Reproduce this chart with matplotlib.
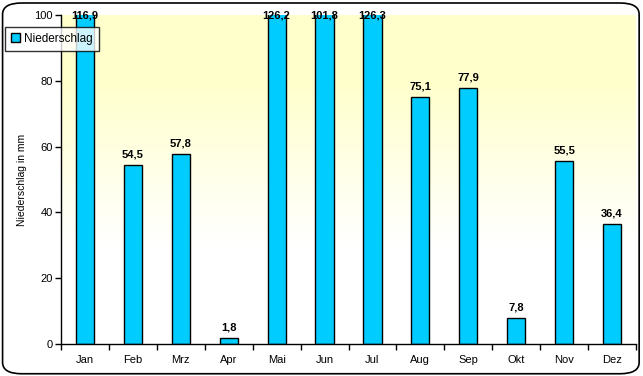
import numpy as np
import matplotlib.pyplot as plt
import matplotlib.patches as patches

plt.rcParams["font.family"] = ["Liberation Sans", "DejaVu Sans"]

months = ["Jan", "Feb", "Mrz", "Apr", "Mai", "Jun", "Jul", "Aug", "Sep", "Okt", "Nov", "Dez"]
niederschlag = [116.9, 54.5, 57.8, 1.8, 126.2, 101.8, 126.3, 75.1, 77.9, 7.8, 55.5, 36.4]
y_ticks = [0, 20, 40, 60, 80, 100]

fig = plt.figure(figsize=(6.43, 3.76), dpi=100)

# rounded frame around the whole chart
frame = patches.FancyBboxPatch(
    (0.004, 0.006), 0.990, 0.986,
    boxstyle="round,pad=0,rounding_size=0.03",
    transform=fig.transFigure, fc="none", ec="black", lw=1.2, zorder=-5,
)
fig.patches.append(frame)

ax = fig.add_axes([0.095, 0.085, 0.894, 0.875])
x = np.arange(len(months))
ax.set_xlim(-0.5, len(months) - 0.5)
ax.set_ylim(0, 100)

# yellow to white background gradient
grad = np.linspace(0, 1, 256).reshape(-1, 1)
top = np.array([1.0, 1.0, 0.8])
bottom = np.array([1.0, 1.0, 1.0])
w = np.clip((grad - 0.3) / 0.5, 0, 1)
img = bottom + (top - bottom) * w[..., None]
ax.imshow(img, extent=[-0.5, len(months) - 0.5, 0, 100], origin="lower",
          aspect="auto", zorder=0)

bars = ax.bar(x, niederschlag, width=0.38, color="#00CCFF", edgecolor="black",
              linewidth=1, zorder=2, label="Niederschlag")

for xi, v in zip(x, niederschlag):
    lab = f"{v:.1f}".replace(".", ",")
    yv = min(v, 100)
    ax.annotate(lab, (xi, yv), xytext=(0, 4 if v < 100 else -4),
                textcoords="offset points", ha="center", va="bottom",
                fontsize=8, fontweight="bold", zorder=3, annotation_clip=False)

ax.set_yticks(y_ticks)
ax.set_xticks(x)
ax.set_xticklabels(months)
ax.set_xticks(np.arange(-0.5, len(months)), minor=True)
ax.tick_params(axis="x", which="major", length=0, pad=8, labelsize=8)
ax.tick_params(axis="x", which="minor", length=4, direction="out", width=1)
ax.tick_params(axis="y", length=4, direction="out", width=1, labelsize=8, pad=2)
for s in ["top", "right"]:
    ax.spines[s].set_visible(False)
ax.spines["left"].set_linewidth(1)
ax.spines["bottom"].set_linewidth(1)
ax.set_ylabel("Niederschlag in mm", fontsize=7.5, labelpad=5)

fig.legend(handles=[bars], labels=["Niederschlag"], loc="upper left",
           bbox_to_anchor=(0.008, 0.928), frameon=True, fancybox=False,
           edgecolor="black", fontsize=8.5, handlelength=0.8, handleheight=0.8,
           handletextpad=0.3, borderpad=0.5, borderaxespad=0)

fig.savefig("out.png", dpi=100)
